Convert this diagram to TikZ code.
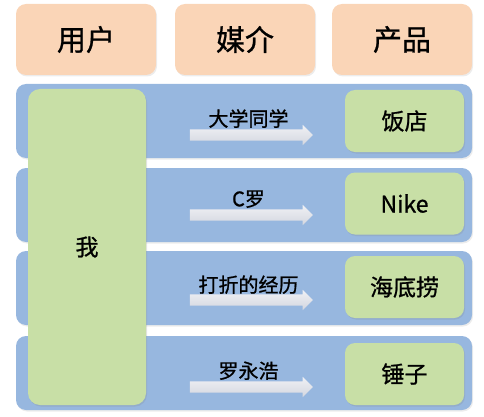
\documentclass[tikz,border=0pt]{standalone}
\usepackage{fontspec}
\newfontfamily\cjk[FakeBold=0.9]{Noto Sans CJK SC}
\usepackage{tikz}
\usetikzlibrary{positioning, shapes.arrows, shadows}

\definecolor{headpeach}{HTML}{FAD5B7}
\definecolor{bandblue}{HTML}{97B7DF}
\definecolor{boxgreen}{HTML}{C8DFA6}
\definecolor{arrowtop}{HTML}{F0F1F5}
\definecolor{arrowbot}{HTML}{D3D6DF}

\begin{document}
\begin{tikzpicture}[x=1pt, y=-1pt,
      header/.style={fill=headpeach, rounded corners=10pt, minimum width=140pt, minimum height=71pt, font=\cjk\fontsize{29pt}{32pt}\selectfont, drop shadow={opacity=0.15, shadow xshift=1pt, shadow yshift=-1.5pt}},
      band/.style={fill=bandblue, rounded corners=10pt, minimum width=456pt, minimum height=74pt, drop shadow={opacity=0.15, shadow xshift=1pt, shadow yshift=-1.5pt}},
      prod/.style={fill=boxgreen, rounded corners=10pt, minimum width=119pt, minimum height=62pt, font=\cjk\fontsize{23pt}{26pt}\selectfont, drop shadow={opacity=0.2, shadow xshift=1pt, shadow yshift=-1.5pt}},
      medium/.style={single arrow, top color=arrowtop, bottom color=arrowbot, inner sep=5.5pt, single arrow head extend=4.5pt, minimum height=123pt, single arrow head indent=0pt},
      via/.style={font=\cjk\fontsize{20pt}{22pt}\selectfont, inner sep=1pt}
    ]
      \useasboundingbox (0,0) rectangle (484,417);

      % Header row
      \node[header] (user) at (86,39.5) {用户};
      \node[header] (media) at (245,39.5) {媒介};
      \node[header] (product) at (402,39.5) {产品};

      % Blue bands
      \node[band] (row1) at (244,121) {};
      \node[band] (row2) at (244,205) {};
      \node[band] (row3) at (244,288) {};
      \node[band] (row4) at (244,373) {};

      % The user
      \node[prod, minimum width=118pt, minimum height=316pt, rounded corners=12pt] (me) at (87,247) {我};

      % Products
      \node[prod] (hotel) at (404.5,121) {饭店};
      \node[prod] (nike) at (404.5,203.5) {Nike};
      \node[prod] (hotpot) at (404.5,287) {海底捞};
      \node[prod] (hammer) at (404.5,374) {锤子};

      % Media arrows
      \node[medium] (arr1) at (248.5,135) {};
      \node[medium] (arr2) at (248.5,215) {};
      \node[medium] (arr3) at (248.5,300) {};
      \node[medium] (arr4) at (248.5,387) {};

      \node[via, above=0pt of arr1] (mate) {大学同学};
      \node[via, above=0pt of arr2] (ronaldo) {C罗};
      \node[via, above=-1pt of arr3] (sale) {打折的经历};
      \node[via, above=0pt of arr4] (luo) {罗永浩};
    \end{tikzpicture}
\end{document}
